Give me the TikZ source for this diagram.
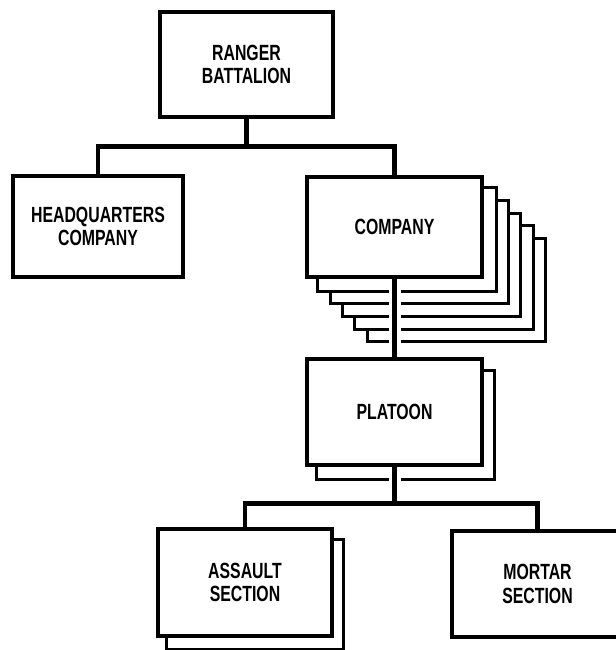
\documentclass[tikz,border=0pt]{standalone}
\usepackage{fontspec}
\setmainfont{Liberation Sans}[FakeStretch=0.72]
\usetikzlibrary{backgrounds}

\tikzset{every picture/.style={line width=0.75pt}}
\tikzset{
  unitbox/.style 2 args={draw, fill=white, line width=2.6pt, inner sep=0pt,
    minimum width=#1*0.75pt, minimum height=#2*0.75pt, align=center,
    font=\fontsize{16.5}{17.5}\selectfont\bfseries},
  backbox/.style={draw, fill=white, line width=2.3pt},
  link/.style={draw, line width=3.4pt, line join=miter},
  gap/.style={preaction={draw=white, line width=9pt}}
}

\begin{document}
\begin{tikzpicture}[x=0.75pt,y=0.75pt,yscale=-1,xscale=1]
\useasboundingbox (0,0) rectangle (616,650);

% Text Node
\node[unitbox={173}{105}] (bat) at (246.5,64.5) {RANGER\\BATTALION};
% Text Node
\node[unitbox={170}{101}] (hq) at (98,226.5) {HEADQUARTERS\\COMPANY};
% Text Node
\node[unitbox={175}{100}] (co) at (394.5,227) {COMPANY};
% Text Node
\node[unitbox={175}{106}] (plt) at (394.5,412) {PLATOON};
% Text Node
\node[unitbox={174}{107}] (asl) at (245,582.5) {ASSAULT\\SECTION};
% Text Node
\node[unitbox={171}{106}] (mtr) at (537.5,584) {MORTAR\\SECTION};

%Stacked boxes behind
\begin{pgfonlayer}{background}
\foreach \i in {5,4,...,1}
  \draw[backbox] ([shift={(\i*12.4,\i*12.6)}]co.north west) rectangle ([shift={(\i*12.4,\i*12.6)}]co.south east);
\draw[backbox] ([shift={(11,13)}]plt.north west) rectangle ([shift={(11,13)}]plt.south east);
\draw[backbox] ([shift={(10,12)}]asl.north west) rectangle ([shift={(10,12)}]asl.south east);
\end{pgfonlayer}

%Straight Lines
\draw[link] (bat.south) -- ++(0,28) -| (hq.north);
\draw[link] (bat.south) -- ++(0,28) -| (co.north);
\draw[link, gap] (co.south) -- (plt.north);
\draw[link, gap] (plt.south) -- ++(0,37) -| (asl.north);
\draw[link] (plt.south) -- ++(0,37) -| (mtr.north);

\end{tikzpicture}
\end{document}
